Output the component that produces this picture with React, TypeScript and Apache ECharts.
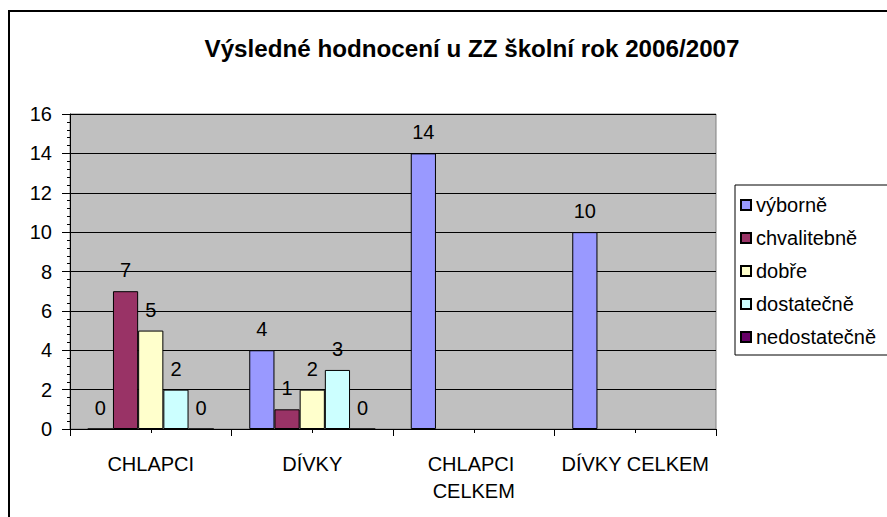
import React, { useEffect, useRef } from "react";
import * as echarts from "echarts";

const categories = ["CHLAPCI", "DÍVKY", "CHLAPCI CELKEM", "DÍVKY CELKEM"];
const seriesNames = ["výborně", "chvalitebně", "dobře", "dostatečně", "nedostatečně"];
const vyborne = [0, 4, 14, 10];
const chvalitebne = [7, 1, null, null];
const dobre = [5, 2, null, null];
const dostatecne = [2, 3, null, null];
const nedostatecne = [0, 0, null, null];
const colors = ["#9999FF", "#993366", "#FFFFCC", "#CCFFFF", "#660066"];
const title = "Výsledné hodnocení u ZZ školní rok 2006/2007";

export default function App() {
  const ref = useRef<HTMLDivElement>(null);
  useEffect(() => {
    if (!ref.current) return;
    const chart = echarts.init(ref.current, null, { renderer: "svg" });
    const values = [vyborne, chvalitebne, dobre, dostatecne, nedostatecne];
    const font = "'Liberation Sans', Arial, sans-serif";
    chart.setOption({
      animation: false,
      backgroundColor: "#ffffff",
      title: {
        text: title,
        left: 467,
        top: 31,
        textAlign: "center",
        textStyle: {
          fontFamily: font,
          fontWeight: "bold",
          fontSize: 24.2,
          color: "#000",
        },
      },
      graphic: [
        {
          type: "rect",
          shape: { x: 9, y: 11, width: 900, height: 540 },
          style: { fill: "none", stroke: "#000", lineWidth: 2 },
          z: 100,
          silent: true,
        },
      ],
      legend: {
        orient: "vertical",
        left: 735,
        top: 185,
        data: seriesNames,
        itemWidth: 10,
        itemHeight: 10,
        itemGap: 13,
        padding: [10, 20, 8, 5],
        borderColor: "#000",
        borderWidth: 1,
        backgroundColor: "#fff",
        icon: "rect",
        textStyle: { fontFamily: font, fontSize: 20, color: "#000" },
      },
      grid: {
        left: 70,
        top: 114,
        right: 171,
        bottom: 88,
        show: true,
        backgroundColor: "#C0C0C0",
        borderColor: "#808080",
        borderWidth: 1,
      },
      xAxis: [
        {
          type: "category",
          data: categories,
          axisLine: { lineStyle: { color: "#000", width: 1 } },
          axisTick: { show: true, length: 7, lineStyle: { color: "#000" } },
          axisLabel: {
            fontFamily: font,
            fontSize: 20,
            color: "#000",
            margin: 21,
            width: 168,
            overflow: "break",
            lineHeight: 27,
            interval: 0,
          },
        },
        {
          type: "category",
          data: categories,
          position: "bottom",
          axisLine: { show: false },
          axisTick: { show: true, alignWithLabel: true, length: 4, lineStyle: { color: "#000" } },
          axisLabel: { show: false },
        },
      ],
      yAxis: {
        type: "value",
        min: 0,
        max: 16,
        interval: 2,
        axisLine: { show: true, lineStyle: { color: "#000" } },
        axisTick: { show: true, length: 8, lineStyle: { color: "#000" } },
        minorTick: { show: true, splitNumber: 5, length: 3, lineStyle: { color: "#000" } },
        splitLine: { show: true, lineStyle: { color: "#000", width: 1 } },
        axisLabel: { fontFamily: font, fontSize: 20, color: "#000", margin: 18 },
      },
      series: seriesNames.map((name, i) => ({
        name,
        type: "bar",
        xAxisIndex: 0,
        data: values[i],
        barGap: "0%",
        barCategoryGap: "22%",
        itemStyle: { color: colors[i], borderColor: "#000", borderWidth: 1 },
        label: {
          show: true,
          position: "top",
          distance: 11,
          fontFamily: font,
          fontSize: 20,
          color: "#000",
        },
      })),
    });
    return () => chart.dispose();
  }, []);
  return (
    <div
      ref={ref}
      style={{ position: "fixed", left: 0, top: 0, width: 887, height: 517 }}
    />
  );
}
